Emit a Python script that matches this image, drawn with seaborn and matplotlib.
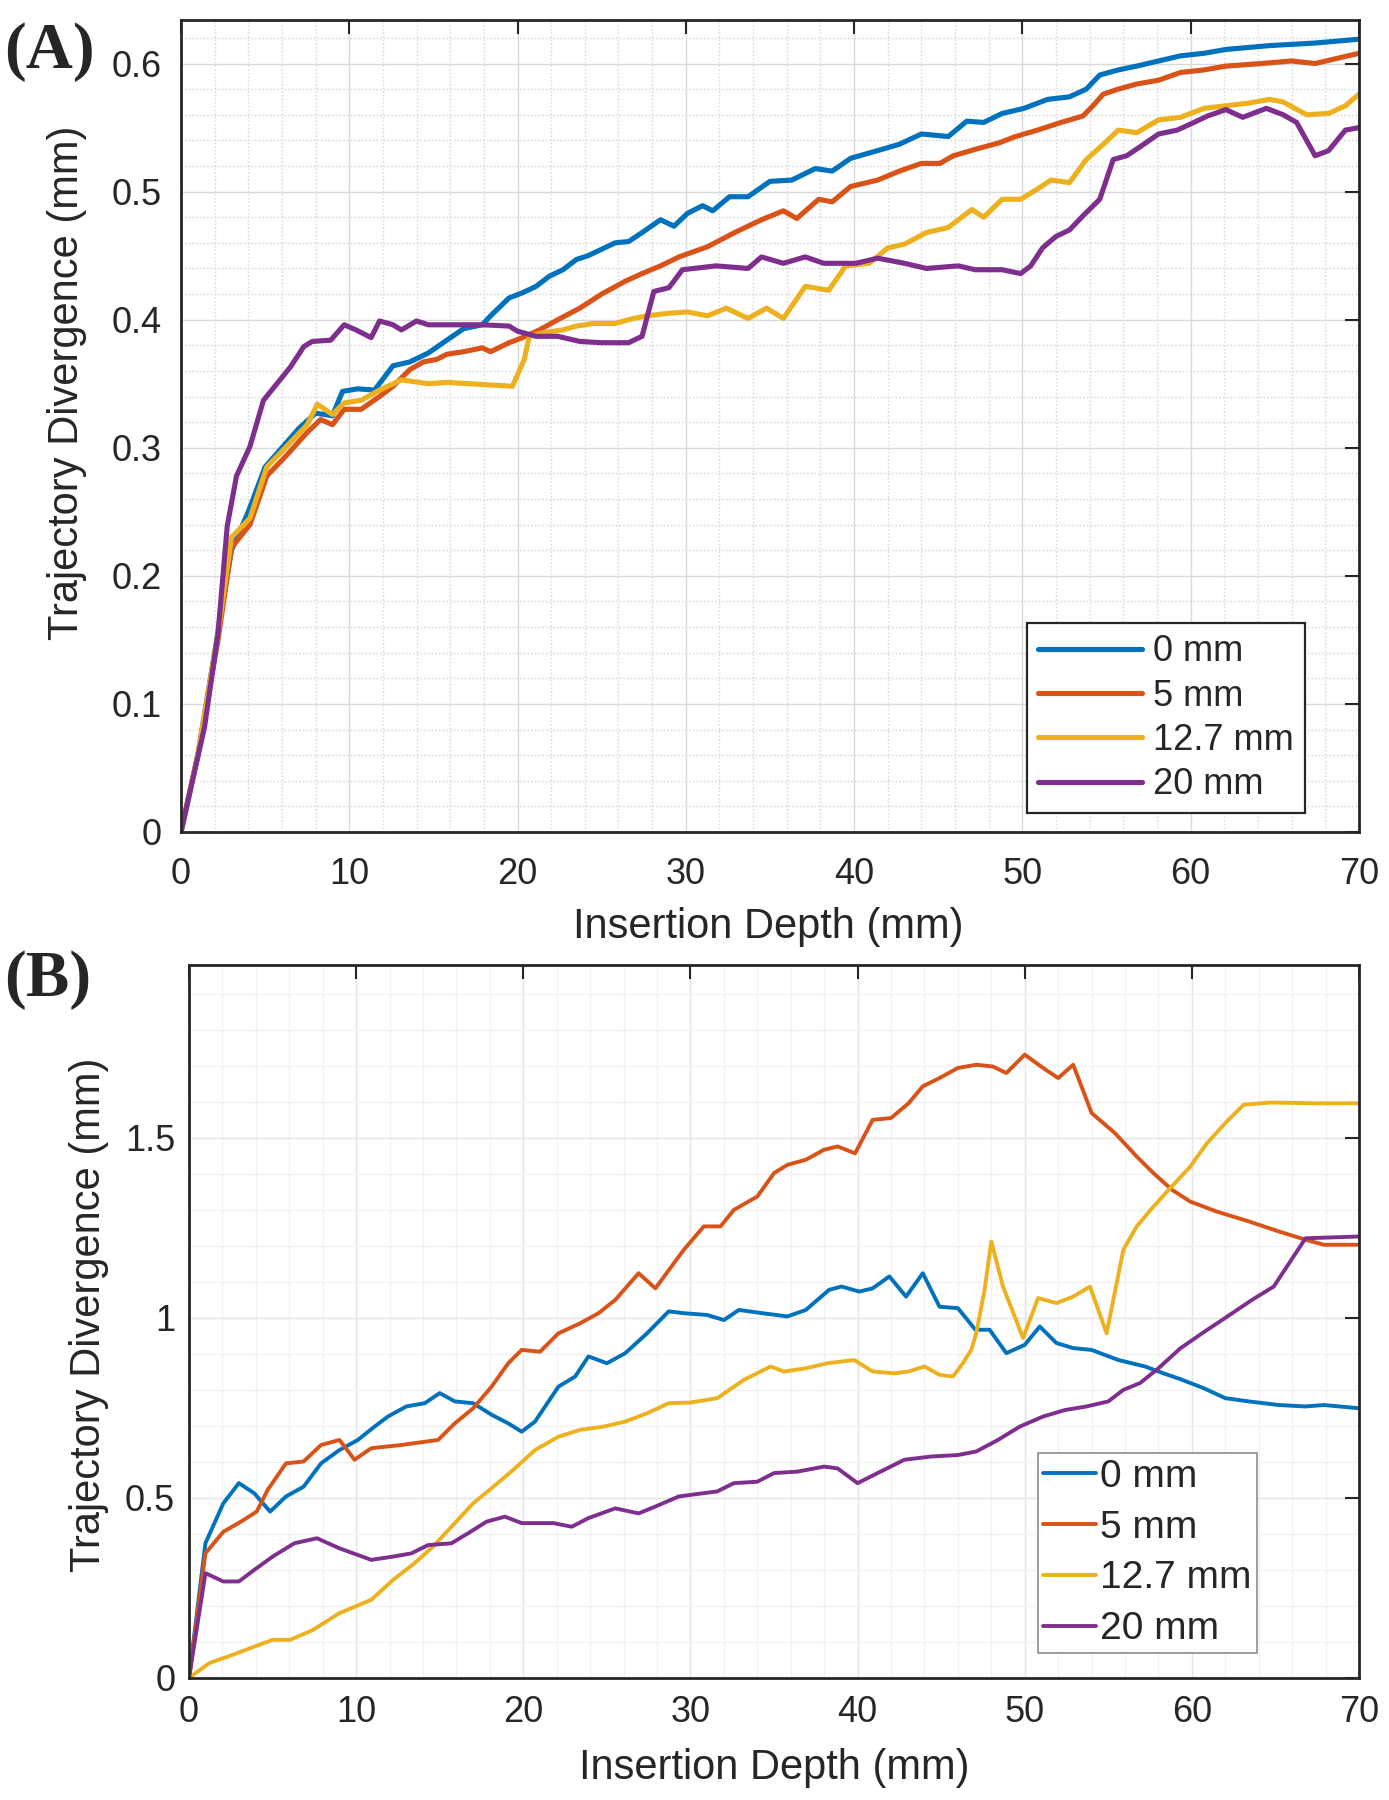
import matplotlib
matplotlib.use("Agg")
import matplotlib.pyplot as plt
from matplotlib.ticker import MultipleLocator
import seaborn as sns
import pandas as pd

sns.set_style("whitegrid")
plt.rcParams['font.family'] = ['Liberation Sans', 'DejaVu Sans']

labels = ['0 mm', '5 mm', '12.7 mm', '20 mm']
colors = ['#0072BD', '#D95319', '#EDB120', '#7E2F8E']

# ---- panel A: trajectory divergence vs insertion depth ----
a_x0 = [0, 1, 2, 3, 4, 5, 6, 7, 8, 9, 9.6, 10.5, 11.5, 12.6, 13.6, 14.7, 15.8, 16.8, 17.9, 18.4,
        19.5, 20.3, 21.1, 21.9, 22.7, 23.5, 24.2, 25.0, 25.8, 26.6, 27.4, 28.5, 29.3, 30.1, 31.0,
        31.6, 32.6, 33.7, 35.0, 36.3, 37.7, 38.7, 39.8, 41.4, 42.7, 44.0, 45.6, 46.7, 47.7, 48.8,
        50.1, 51.5, 52.8, 53.8, 54.6, 55.7, 56.8, 58.1, 59.4, 60.8, 62.1, 64.7, 67.4, 70]
a_y0 = [0, 0.06, 0.14, 0.22, 0.25, 0.285, 0.3, 0.315, 0.327, 0.325, 0.344, 0.346, 0.345, 0.364,
        0.367, 0.374, 0.384, 0.393, 0.396, 0.403, 0.417, 0.421, 0.426, 0.434, 0.439, 0.447, 0.45,
        0.455, 0.46, 0.461, 0.468, 0.478, 0.473, 0.483, 0.489, 0.485, 0.496, 0.496, 0.508, 0.509,
        0.518, 0.516, 0.526, 0.532, 0.537, 0.545, 0.543, 0.555, 0.554, 0.561, 0.565, 0.572, 0.574,
        0.58, 0.591, 0.595, 0.598, 0.602, 0.606, 0.608, 0.611, 0.614, 0.616, 0.619]

a_x5 = [0, 1, 2.2, 3, 4.1, 5.1, 6.2, 7.5, 8.3, 9.0, 9.7, 10.7, 11.8, 12.6, 13.6, 14.4, 15.2, 15.8,
        16.8, 17.9, 18.4, 19.5, 20.3, 21.3, 22.4, 23.7, 25.0, 26.4, 27.4, 28.5, 29.6, 31.3, 32.9,
        34.5, 35.8, 36.6, 37.9, 38.7, 39.8, 41.4, 42.7, 44.0, 45.1, 45.9, 47.2, 48.6, 49.6, 50.9,
        52.3, 53.6, 54.2, 54.8, 55.7, 56.8, 58.1, 59.4, 60.8, 62.1, 64.2, 66.0, 67.4, 68.7, 70]
a_y5 = [0, 0.06, 0.15, 0.222, 0.24, 0.278, 0.293, 0.312, 0.322, 0.318, 0.33, 0.33, 0.34, 0.348,
        0.361, 0.367, 0.369, 0.373, 0.375, 0.378, 0.375, 0.382, 0.386, 0.392, 0.4, 0.409, 0.42,
        0.43, 0.436, 0.442, 0.449, 0.457, 0.468, 0.478, 0.485, 0.479, 0.494, 0.492, 0.504, 0.509,
        0.516, 0.522, 0.522, 0.528, 0.533, 0.538, 0.543, 0.548, 0.554, 0.559, 0.567, 0.576, 0.58,
        0.584, 0.587, 0.593, 0.595, 0.598, 0.6, 0.602, 0.6, 0.604, 0.608]

a_x12 = [0, 1, 2.2, 3, 4.1, 5.1, 6.2, 7.5, 8.1, 9.0, 9.7, 10.7, 11.8, 13.1, 14.7, 15.8, 17.1, 18.4,
         19.7, 20.4, 20.7, 21.6, 22.7, 23.5, 24.5, 25.8, 26.9, 27.7, 29.0, 30.1, 31.3, 32.4, 33.7,
         34.8, 35.8, 37.1, 38.5, 39.5, 40.9, 42.0, 43.0, 44.3, 45.6, 47.0, 47.7, 48.8, 49.9, 50.9,
         51.7, 52.8, 53.8, 54.9, 55.7, 56.8, 58.1, 59.4, 60.8, 62.1, 63.4, 64.7, 65.5, 66.9, 68.2,
         69.2, 70]
a_y12 = [0, 0.06, 0.155, 0.23, 0.245, 0.285, 0.3, 0.318, 0.334, 0.326, 0.335, 0.337, 0.345, 0.353,
         0.35, 0.351, 0.35, 0.349, 0.348, 0.369, 0.387, 0.39, 0.392, 0.395, 0.397, 0.397, 0.401,
         0.403, 0.405, 0.406, 0.403, 0.409, 0.401, 0.409, 0.401, 0.426, 0.423, 0.442, 0.444, 0.456,
         0.459, 0.468, 0.472, 0.486, 0.48, 0.494, 0.494, 0.502, 0.509, 0.507, 0.525, 0.538, 0.548,
         0.546, 0.556, 0.558, 0.565, 0.567, 0.569, 0.572, 0.57, 0.56, 0.561, 0.567, 0.576]

a_x20 = [0, 1.4, 2.2, 2.75, 3.3, 4.1, 4.9, 5.7, 6.5, 7.3, 7.8, 8.9, 9.7, 10.4, 11.3, 11.8, 12.6,
         13.1, 14.0, 14.7, 15.8, 16.8, 17.9, 19.5, 20.0, 21.1, 22.4, 23.7, 25.0, 26.6, 27.4, 28.1,
         29.0, 29.8, 31.8, 33.7, 34.5, 35.8, 37.1, 38.2, 40.1, 41.4, 43.0, 44.3, 46.2, 47.2, 48.8,
         49.9, 50.5, 51.2, 52.0, 52.8, 53.6, 54.6, 55.4, 56.2, 57.0, 58.1, 59.2, 60.2, 61.0, 62.1,
         63.1, 64.5, 65.5, 66.3, 67.4, 68.2, 69.2, 70]
a_y20 = [0, 0.082, 0.155, 0.239, 0.278, 0.301, 0.337, 0.35, 0.363, 0.379, 0.383, 0.384, 0.396,
         0.392, 0.386, 0.399, 0.396, 0.392, 0.399, 0.396, 0.396, 0.396, 0.396, 0.395, 0.391, 0.387,
         0.387, 0.383, 0.382, 0.382, 0.387, 0.422, 0.425, 0.439, 0.442, 0.44, 0.449, 0.444, 0.449,
         0.444, 0.444, 0.448, 0.444, 0.44, 0.442, 0.439, 0.439, 0.436, 0.442, 0.456, 0.465, 0.47,
         0.481, 0.494, 0.525, 0.528, 0.535, 0.545, 0.548, 0.554, 0.559, 0.564, 0.558, 0.565, 0.56,
         0.554, 0.528, 0.532, 0.548, 0.55]

# ---- panel B ----
b_x0 = [0, 0.98, 2.05, 2.98, 3.9, 4.85, 5.8, 6.85, 7.9, 9.0, 10.1, 11.1, 11.9, 13.0, 14.1, 15.0,
        15.9, 17.0, 18.1, 19.1, 19.9, 20.7, 22.1, 23.1, 23.9, 25.0, 26.1, 27.4, 28.7, 29.6, 31.0,
        32.0, 32.9, 34.3, 35.8, 36.9, 38.3, 39.05, 40.1, 40.9, 41.9, 42.9, 43.9, 44.9, 46.0, 47.05,
        47.9, 48.9, 50.0, 50.9, 51.9, 52.9, 54.0, 55.6, 57.2, 58.3, 59.3, 60.7, 62.0, 63.4, 65.2,
        66.8, 67.9, 70]
b_y0 = [0, 0.374, 0.485, 0.541, 0.513, 0.462, 0.504, 0.531, 0.596, 0.633, 0.661, 0.698, 0.726,
        0.754, 0.763, 0.791, 0.768, 0.763, 0.731, 0.707, 0.684, 0.712, 0.809, 0.837, 0.893, 0.874,
        0.902, 0.957, 1.018, 1.013, 1.008, 0.994, 1.022, 1.013, 1.004, 1.022, 1.078, 1.087, 1.073,
        1.082, 1.115, 1.059, 1.124, 1.031, 1.027, 0.967, 0.967, 0.902, 0.925, 0.976, 0.93, 0.916,
        0.911, 0.883, 0.865, 0.846, 0.83, 0.805, 0.777, 0.768, 0.758, 0.754, 0.758, 0.749]

b_x5 = [0, 0.98, 2.05, 3.1, 4.05, 4.7, 5.8, 6.85, 7.9, 9.0, 9.9, 10.9, 12.7, 14.9, 15.9, 17.0,
        18.1, 19.1, 19.9, 21.0, 22.1, 23.4, 24.5, 25.5, 26.9, 27.9, 29.6, 30.8, 31.8, 32.6, 34.0,
        35.0, 35.8, 36.9, 38.0, 38.8, 39.85, 40.9, 42.0, 43.05, 43.9, 44.9, 46.0, 47.1, 48.1, 48.9,
        50.0, 51.1, 52.0, 52.9, 54.0, 55.4, 56.7, 57.7, 58.8, 59.9, 61.5, 63.4, 65.2, 66.8, 67.9, 70]
b_y5 = [0, 0.346, 0.406, 0.434, 0.462, 0.522, 0.596, 0.601, 0.647, 0.661, 0.606, 0.638, 0.647,
        0.661, 0.707, 0.749, 0.809, 0.874, 0.911, 0.906, 0.957, 0.985, 1.013, 1.05, 1.124, 1.082,
        1.189, 1.254, 1.254, 1.3, 1.337, 1.402, 1.425, 1.439, 1.467, 1.476, 1.457, 1.55, 1.555,
        1.596, 1.643, 1.666, 1.694, 1.703, 1.698, 1.68, 1.731, 1.694, 1.666, 1.703, 1.569, 1.513,
        1.448, 1.402, 1.356, 1.323, 1.295, 1.268, 1.24, 1.217, 1.203, 1.203]

b_x12 = [0, 1.2, 2.6, 3.9, 5.0, 6.05, 7.4, 9.0, 10.9, 12.2, 13.5, 14.6, 15.7, 17.0, 18.1, 19.4,
         20.7, 22.1, 23.4, 24.8, 26.1, 27.4, 28.7, 30.0, 31.6, 33.2, 34.8, 35.6, 36.9, 38.2, 39.8,
         40.9, 42.2, 43.05, 44.0, 44.9, 45.7, 46.3, 46.8, 47.1, 47.6, 48.0, 48.7, 49.9, 50.8, 51.9,
         52.9, 53.9, 54.9, 55.9, 56.7, 57.7, 58.8, 59.9, 60.9, 62.0, 63.1, 64.7, 67.3, 70]
b_y12 = [0, 0.041, 0.064, 0.087, 0.106, 0.106, 0.133, 0.18, 0.217, 0.272, 0.319, 0.365, 0.42,
         0.485, 0.527, 0.578, 0.633, 0.67, 0.689, 0.698, 0.712, 0.735, 0.763, 0.765, 0.777, 0.828,
         0.865, 0.851, 0.86, 0.874, 0.883, 0.851, 0.846, 0.851, 0.865, 0.842, 0.837, 0.874, 0.911,
         0.957, 1.078, 1.212, 1.087, 0.944, 1.055, 1.041, 1.059, 1.087, 0.957, 1.189, 1.254, 1.309,
         1.365, 1.42, 1.485, 1.541, 1.592, 1.598, 1.596, 1.596]

b_x20 = [0, 0.98, 2.05, 2.98, 3.9, 5.0, 6.3, 7.65, 9.0, 10.9, 12.2, 13.3, 14.3, 15.7, 16.7, 17.8,
         18.9, 19.9, 21.8, 22.9, 23.9, 25.5, 26.9, 27.9, 29.3, 30.6, 31.6, 32.6, 34.0, 35.0, 36.4,
         38.0, 38.8, 40.0, 41.2, 42.8, 44.4, 46.0, 47.1, 48.4, 49.7, 51.1, 52.4, 53.7, 55.0, 55.9,
         56.9, 58.0, 59.3, 60.7, 62.0, 63.6, 64.9, 66.8, 70]
b_y20 = [0, 0.291, 0.268, 0.268, 0.3, 0.337, 0.374, 0.388, 0.36, 0.328, 0.337, 0.346, 0.369, 0.374,
         0.402, 0.434, 0.448, 0.43, 0.43, 0.42, 0.444, 0.471, 0.457, 0.476, 0.504, 0.512, 0.518,
         0.541, 0.545, 0.569, 0.573, 0.587, 0.582, 0.541, 0.569, 0.606, 0.615, 0.619, 0.629, 0.661,
         0.698, 0.726, 0.744, 0.754, 0.768, 0.8, 0.819, 0.86, 0.915, 0.96, 1.0, 1.05, 1.087, 1.221,
         1.226]


def long_df(xs, ys):
    frames = []
    for lab, x, y in zip(labels, xs, ys):
        frames.append(pd.DataFrame({'depth': x, 'div': y, 'offset': lab}))
    return pd.concat(frames, ignore_index=True)


df_a = long_df([a_x0, a_x5, a_x12, a_x20], [a_y0, a_y5, a_y12, a_y20])
df_b = long_df([b_x0, b_x5, b_x12, b_x20], [b_y0, b_y5, b_y12, b_y20])

fig = plt.figure(figsize=(13.89, 18), dpi=100)
ax_a = fig.add_axes([0.1303, 0.5378, 0.848, 0.4511])
ax_b = fig.add_axes([0.1361, 0.0678, 0.8423, 0.3961])

pal = dict(zip(labels, colors))
lw_a, lw_b = 3.7, 2.8
sns.lineplot(data=df_a, x='depth', y='div', hue='offset', palette=pal, sort=False,
             estimator=None, linewidth=lw_a, ax=ax_a, legend=False)
sns.lineplot(data=df_b, x='depth', y='div', hue='offset', palette=pal, sort=False,
             estimator=None, linewidth=lw_b, ax=ax_b, legend=False)

text_col = '#262626'
for ax, ylim, ymaj, ymin in [(ax_a, (0, 0.634), 0.1, 0.02), (ax_b, (0, 1.98), 0.5, 0.1)]:
    ax.set_xlim(0, 70)
    ax.set_ylim(*ylim)
    ax.xaxis.set_major_locator(MultipleLocator(10))
    ax.xaxis.set_minor_locator(MultipleLocator(2))
    ax.yaxis.set_major_locator(MultipleLocator(ymaj))
    ax.yaxis.set_minor_locator(MultipleLocator(ymin))
    ax.tick_params(which='major', direction='in', length=10, width=1.5, top=True, right=True,
                   labelsize=26, colors=text_col, pad=14)
    ax.tick_params(which='minor', length=0)
    for s in ax.spines.values():
        s.set_color(text_col)
        s.set_linewidth(2)
    ax.set_facecolor('white')
    ax.set_axisbelow(True)

ax_a.grid(which='major', color='#d9d9d9', linewidth=1.0, linestyle='-')
ax_a.grid(which='minor', color='#d4d4d4', linewidth=1.0, linestyle=':')
ax_b.grid(which='major', color='#e4e4e4', linewidth=1.0, linestyle='-')
ax_b.grid(which='minor', color='#f1f1f1', linewidth=1.0, linestyle='-')

ax_a.set_yticks([0, 0.1, 0.2, 0.3, 0.4, 0.5, 0.6])
ax_a.set_yticklabels(['0', '0.1', '0.2', '0.3', '0.4', '0.5', '0.6'])
ax_b.set_yticks([0, 0.5, 1, 1.5])
ax_b.set_yticklabels(['0', '0.5', '1', '1.5'])
ax_a.tick_params(axis='x', pad=18)
ax_b.tick_params(axis='y', pad=10)
ax_b.tick_params(axis='x', pad=12)

for ax in (ax_a, ax_b):
    ax.set_xlabel('Insertion Depth (mm)', fontsize=30, color=text_col)
    ax.set_ylabel('Trajectory Divergence (mm)', fontsize=30, color=text_col)
ax_a.xaxis.set_label_coords(0.499, -0.092)
ax_a.yaxis.set_label_coords(-0.08, 0.553)
ax_b.xaxis.set_label_coords(0.5, -0.098)
ax_b.yaxis.set_label_coords(-0.068, 0.51)

handles_a = [plt.Line2D([], [], color=c, linewidth=lw_a) for c in colors]
leg_a = ax_a.legend(handles_a, labels, loc='lower right', bbox_to_anchor=(0.954, 0.023),
                    fontsize=26, handlelength=2.9, handletextpad=0.3, labelspacing=0.26,
                    borderpad=0.3, borderaxespad=0, fancybox=False, framealpha=1)
leg_a.get_frame().set_edgecolor('#262626')
leg_a.get_frame().set_linewidth(1.6)

handles_b = [plt.Line2D([], [], color=c, linewidth=lw_b) for c in colors]
leg_b = ax_b.legend(handles_b, labels, loc='lower right', bbox_to_anchor=(0.913, 0.035),
                    fontsize=28, handlelength=1.35, handletextpad=0.1, labelspacing=0.38,
                    borderpad=0.15, borderaxespad=0, fancybox=False, framealpha=1)
leg_b.get_frame().set_edgecolor('#8c8c8c')
leg_b.get_frame().set_linewidth(1.2)

fig.text(0.003, 1 - 22 / 1800, '(A)', fontsize=47, fontweight='bold',
         family=['Liberation Serif', 'DejaVu Serif'], va='top', ha='left')
fig.text(0.003, 1 - 950 / 1800, '(B)', fontsize=47, fontweight='bold',
         family=['Liberation Serif', 'DejaVu Serif'], va='top', ha='left')

fig.savefig('out.png', dpi=100, facecolor='white')
